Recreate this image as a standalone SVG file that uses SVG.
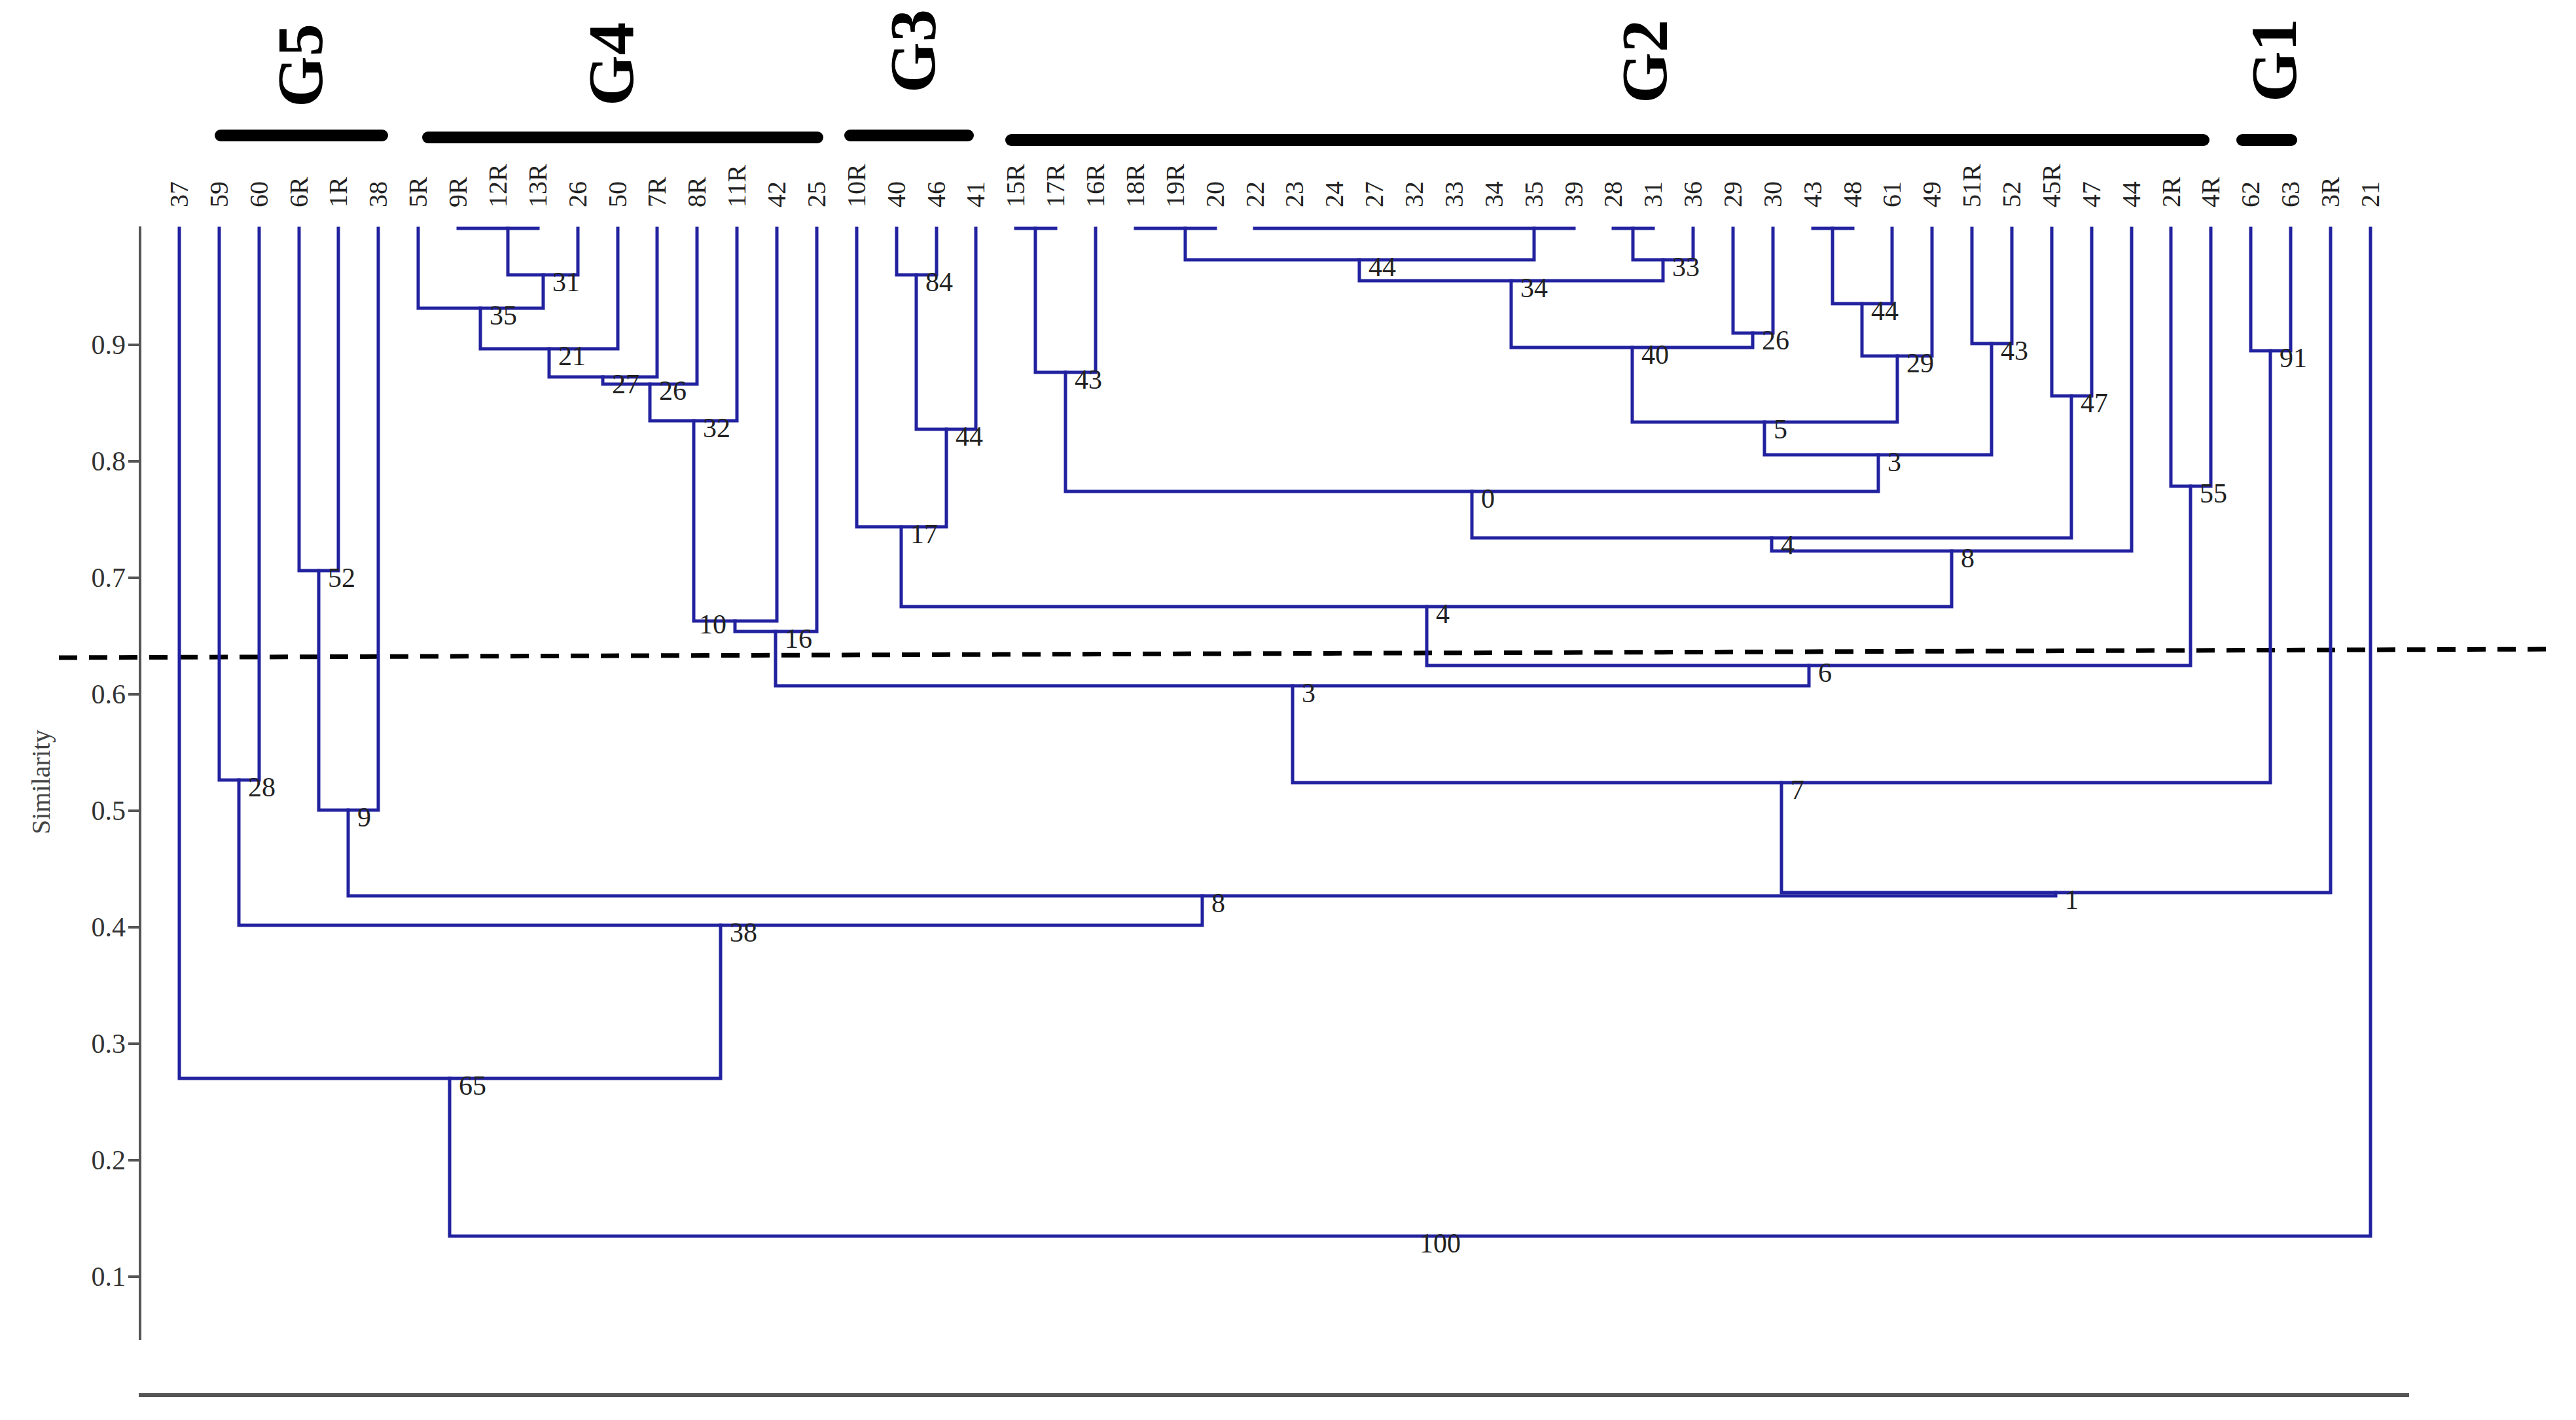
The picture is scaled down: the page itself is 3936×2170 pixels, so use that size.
<svg xmlns="http://www.w3.org/2000/svg" width="3936" height="2170" viewBox="0 0 3936 2170">
<style>
.b{fill:none;stroke:#2222a0;stroke-width:5;stroke-linecap:square;stroke-linejoin:miter}
.lf{font-family:"Liberation Serif","Times New Roman",serif;font-size:40px;fill:#222}
.nl{font-family:"Liberation Serif","Times New Roman",serif;font-size:42px;fill:#222}
.tk{font-family:"Liberation Serif","Times New Roman",serif;font-size:42px;fill:#333;text-anchor:end}
.gl{font-family:"Liberation Serif","Times New Roman",serif;font-size:100px;font-weight:bold;fill:#000;text-anchor:middle}
.bar{stroke:#000;stroke-width:18;stroke-linecap:round}
.ax{stroke:#555;fill:none}
</style>
<rect width="3936" height="2170" fill="#fff"/>
<g id="axis">
<path class="ax" stroke-width="4" d="M214 346V2048M196 527H214M196 705H214M196 883H214M196 1061H214M196 1239H214M196 1417H214M196 1595H214M196 1773H214M196 1951H214"/>
<text class="tk" x="192" y="541">0.9</text>
<text class="tk" x="192" y="719">0.8</text>
<text class="tk" x="192" y="897">0.7</text>
<text class="tk" x="192" y="1075">0.6</text>
<text class="tk" x="192" y="1253">0.5</text>
<text class="tk" x="192" y="1431">0.4</text>
<text class="tk" x="192" y="1609">0.3</text>
<text class="tk" x="192" y="1787">0.2</text>
<text class="tk" x="192" y="1965">0.1</text>
<text transform="translate(76,1195) rotate(-90)" text-anchor="middle" style="font-family:'Liberation Serif','Times New Roman',serif;font-size:40px;fill:#444">Similarity</text>
<path class="ax" stroke-width="6" d="M212 2132H3681"/>
</g>
<g id="groups">
<g id="G5"><line class="bar" x1="337" y1="207" x2="584" y2="207"/><text class="gl" transform="translate(492,100) rotate(-90)">G5</text></g>
<g id="G4"><line class="bar" x1="654" y1="210" x2="1249" y2="210"/><text class="gl" transform="translate(967,98) rotate(-90)">G4</text></g>
<g id="G3"><line class="bar" x1="1299" y1="207" x2="1479" y2="207"/><text class="gl" transform="translate(1428,78) rotate(-90)">G3</text></g>
<g id="G2"><line class="bar" x1="1545" y1="214" x2="3367" y2="214"/><text class="gl" transform="translate(2546,94) rotate(-90)">G2</text></g>
<g id="G1"><line class="bar" x1="3426" y1="214" x2="3501" y2="214"/><text class="gl" transform="translate(3508,92) rotate(-90)">G1</text></g>
</g>
<line id="cutoff" x1="90" y1="1005" x2="3907" y2="992" stroke="#000" stroke-width="7" stroke-dasharray="28 18"/>
<g id="connectors">
<path class="b" d="M700 349H822M1552 349H1613M1735 349H1857M1917 349H2405M2465 349H2526M2770 349H2831"/>
<path class="b" d="M776 349V420H883V349"/>
<path class="b" d="M639 349V471H830V420"/>
<path class="b" d="M734 471V533H944V349"/>
<path class="b" d="M839 533V576H1004V349"/>
<path class="b" d="M921 576V587H1065V349"/>
<path class="b" d="M993 587V643H1126V349"/>
<path class="b" d="M1060 643V949H1187V349"/>
<path class="b" d="M1123 949V965H1248V349"/>
<path class="b" d="M1370 349V420H1431V349"/>
<path class="b" d="M1400 420V656H1491V349"/>
<path class="b" d="M1309 349V805H1446V656"/>
<path class="b" d="M1582 349V569H1674V349"/>
<path class="b" d="M1811 349V397H2344V349"/>
<path class="b" d="M2495 349V397H2587V349"/>
<path class="b" d="M2077 397V429H2541V397"/>
<path class="b" d="M2648 349V509H2709V349"/>
<path class="b" d="M2309 429V531H2678V509"/>
<path class="b" d="M2800 349V464H2891V349"/>
<path class="b" d="M2845 464V544H2952V349"/>
<path class="b" d="M2494 531V645H2899V544"/>
<path class="b" d="M3013 349V525H3074V349"/>
<path class="b" d="M2696 645V695H3043V525"/>
<path class="b" d="M1628 569V751H2870V695"/>
<path class="b" d="M3135 349V605H3196V349"/>
<path class="b" d="M2249 751V822H3165V605"/>
<path class="b" d="M2707 822V842H3257V349"/>
<path class="b" d="M1377 805V927H2982V842"/>
<path class="b" d="M3317 349V743H3378V349"/>
<path class="b" d="M2180 927V1017H3347V743"/>
<path class="b" d="M1185 965V1048H2764V1017"/>
<path class="b" d="M3439 349V536H3500V349"/>
<path class="b" d="M1975 1048V1196H3469V536"/>
<path class="b" d="M2722 1196V1364H3561V349"/>
<path class="b" d="M457 349V872H517V349"/>
<path class="b" d="M487 872V1238H578V349"/>
<path class="b" d="M532 1238V1369H3141V1364"/>
<path class="b" d="M335 349V1192H396V349"/>
<path class="b" d="M365 1192V1414H1837V1369"/>
<path class="b" d="M274 349V1648H1101V1414"/>
<path class="b" d="M687 1648V1889H3622V349"/>
</g>
<g id="leaves">
<g id="leaf-37"><text class="lf" transform="translate(287,317) rotate(-90)">37</text></g>
<g id="leaf-59"><text class="lf" transform="translate(348,317) rotate(-90)">59</text></g>
<g id="leaf-60"><text class="lf" transform="translate(409,317) rotate(-90)">60</text></g>
<g id="leaf-6R"><text class="lf" transform="translate(470,317) rotate(-90)">6R</text></g>
<g id="leaf-1R"><text class="lf" transform="translate(530,317) rotate(-90)">1R</text></g>
<g id="leaf-38"><text class="lf" transform="translate(591,317) rotate(-90)">38</text></g>
<g id="leaf-5R"><text class="lf" transform="translate(652,317) rotate(-90)">5R</text></g>
<g id="leaf-9R"><text class="lf" transform="translate(713,317) rotate(-90)">9R</text></g>
<g id="leaf-12R"><text class="lf" transform="translate(774,317) rotate(-90)">12R</text></g>
<g id="leaf-13R"><text class="lf" transform="translate(835,317) rotate(-90)">13R</text></g>
<g id="leaf-26"><text class="lf" transform="translate(896,317) rotate(-90)">26</text></g>
<g id="leaf-50"><text class="lf" transform="translate(957,317) rotate(-90)">50</text></g>
<g id="leaf-7R"><text class="lf" transform="translate(1017,317) rotate(-90)">7R</text></g>
<g id="leaf-8R"><text class="lf" transform="translate(1078,317) rotate(-90)">8R</text></g>
<g id="leaf-11R"><text class="lf" transform="translate(1139,317) rotate(-90)">11R</text></g>
<g id="leaf-42"><text class="lf" transform="translate(1200,317) rotate(-90)">42</text></g>
<g id="leaf-25"><text class="lf" transform="translate(1261,317) rotate(-90)">25</text></g>
<g id="leaf-10R"><text class="lf" transform="translate(1322,317) rotate(-90)">10R</text></g>
<g id="leaf-40"><text class="lf" transform="translate(1383,317) rotate(-90)">40</text></g>
<g id="leaf-46"><text class="lf" transform="translate(1444,317) rotate(-90)">46</text></g>
<g id="leaf-41"><text class="lf" transform="translate(1504,317) rotate(-90)">41</text></g>
<g id="leaf-15R"><text class="lf" transform="translate(1565,317) rotate(-90)">15R</text></g>
<g id="leaf-17R"><text class="lf" transform="translate(1626,317) rotate(-90)">17R</text></g>
<g id="leaf-16R"><text class="lf" transform="translate(1687,317) rotate(-90)">16R</text></g>
<g id="leaf-18R"><text class="lf" transform="translate(1748,317) rotate(-90)">18R</text></g>
<g id="leaf-19R"><text class="lf" transform="translate(1809,317) rotate(-90)">19R</text></g>
<g id="leaf-20"><text class="lf" transform="translate(1870,317) rotate(-90)">20</text></g>
<g id="leaf-22"><text class="lf" transform="translate(1931,317) rotate(-90)">22</text></g>
<g id="leaf-23"><text class="lf" transform="translate(1991,317) rotate(-90)">23</text></g>
<g id="leaf-24"><text class="lf" transform="translate(2052,317) rotate(-90)">24</text></g>
<g id="leaf-27"><text class="lf" transform="translate(2113,317) rotate(-90)">27</text></g>
<g id="leaf-32"><text class="lf" transform="translate(2174,317) rotate(-90)">32</text></g>
<g id="leaf-33"><text class="lf" transform="translate(2235,317) rotate(-90)">33</text></g>
<g id="leaf-34"><text class="lf" transform="translate(2296,317) rotate(-90)">34</text></g>
<g id="leaf-35"><text class="lf" transform="translate(2357,317) rotate(-90)">35</text></g>
<g id="leaf-39"><text class="lf" transform="translate(2418,317) rotate(-90)">39</text></g>
<g id="leaf-28"><text class="lf" transform="translate(2478,317) rotate(-90)">28</text></g>
<g id="leaf-31"><text class="lf" transform="translate(2539,317) rotate(-90)">31</text></g>
<g id="leaf-36"><text class="lf" transform="translate(2600,317) rotate(-90)">36</text></g>
<g id="leaf-29"><text class="lf" transform="translate(2661,317) rotate(-90)">29</text></g>
<g id="leaf-30"><text class="lf" transform="translate(2722,317) rotate(-90)">30</text></g>
<g id="leaf-43"><text class="lf" transform="translate(2783,317) rotate(-90)">43</text></g>
<g id="leaf-48"><text class="lf" transform="translate(2844,317) rotate(-90)">48</text></g>
<g id="leaf-61"><text class="lf" transform="translate(2904,317) rotate(-90)">61</text></g>
<g id="leaf-49"><text class="lf" transform="translate(2965,317) rotate(-90)">49</text></g>
<g id="leaf-51R"><text class="lf" transform="translate(3026,317) rotate(-90)">51R</text></g>
<g id="leaf-52"><text class="lf" transform="translate(3087,317) rotate(-90)">52</text></g>
<g id="leaf-45R"><text class="lf" transform="translate(3148,317) rotate(-90)">45R</text></g>
<g id="leaf-47"><text class="lf" transform="translate(3209,317) rotate(-90)">47</text></g>
<g id="leaf-44"><text class="lf" transform="translate(3270,317) rotate(-90)">44</text></g>
<g id="leaf-2R"><text class="lf" transform="translate(3331,317) rotate(-90)">2R</text></g>
<g id="leaf-4R"><text class="lf" transform="translate(3391,317) rotate(-90)">4R</text></g>
<g id="leaf-62"><text class="lf" transform="translate(3452,317) rotate(-90)">62</text></g>
<g id="leaf-63"><text class="lf" transform="translate(3513,317) rotate(-90)">63</text></g>
<g id="leaf-3R"><text class="lf" transform="translate(3574,317) rotate(-90)">3R</text></g>
<g id="leaf-21"><text class="lf" transform="translate(3635,317) rotate(-90)">21</text></g>
</g>
<g id="nodes">
<g id="n31"><text class="nl" x="844" y="445">31</text></g>
<g id="n35"><text class="nl" x="748" y="496">35</text></g>
<g id="n21"><text class="nl" x="853" y="558">21</text></g>
<g id="n27"><text class="nl" x="935" y="601">27</text></g>
<g id="n26a"><text class="nl" x="1007" y="611">26</text></g>
<g id="n32"><text class="nl" x="1074" y="668">32</text></g>
<g id="n10"><text class="nl" x="1068" y="968">10</text></g>
<g id="n16"><text class="nl" x="1199" y="990">16</text></g>
<g id="n84"><text class="nl" x="1414" y="445">84</text></g>
<g id="n44a"><text class="nl" x="1460" y="681">44</text></g>
<g id="n17"><text class="nl" x="1391" y="830">17</text></g>
<g id="n43a"><text class="nl" x="1642" y="594">43</text></g>
<g id="n44b"><text class="nl" x="2091" y="422">44</text></g>
<g id="n33"><text class="nl" x="2555" y="422">33</text></g>
<g id="n34"><text class="nl" x="2323" y="454">34</text></g>
<g id="n26b"><text class="nl" x="2692" y="534">26</text></g>
<g id="n40"><text class="nl" x="2508" y="556">40</text></g>
<g id="n44c"><text class="nl" x="2859" y="489">44</text></g>
<g id="n29"><text class="nl" x="2913" y="569">29</text></g>
<g id="n5"><text class="nl" x="2710" y="670">5</text></g>
<g id="n43b"><text class="nl" x="3057" y="550">43</text></g>
<g id="n3a"><text class="nl" x="2884" y="720">3</text></g>
<g id="n0"><text class="nl" x="2263" y="776">0</text></g>
<g id="n47"><text class="nl" x="3179" y="630">47</text></g>
<g id="n4a"><text class="nl" x="2721" y="847">4</text></g>
<g id="n8a"><text class="nl" x="2996" y="867">8</text></g>
<g id="n4b"><text class="nl" x="2194" y="952">4</text></g>
<g id="n55"><text class="nl" x="3361" y="768">55</text></g>
<g id="n6"><text class="nl" x="2778" y="1042">6</text></g>
<g id="n3b"><text class="nl" x="1989" y="1073">3</text></g>
<g id="n91"><text class="nl" x="3483" y="561">91</text></g>
<g id="n7"><text class="nl" x="2736" y="1221">7</text></g>
<g id="n1"><text class="nl" x="3155" y="1389">1</text></g>
<g id="n52"><text class="nl" x="501" y="897">52</text></g>
<g id="n9"><text class="nl" x="546" y="1263">9</text></g>
<g id="n8b"><text class="nl" x="1851" y="1394">8</text></g>
<g id="n28"><text class="nl" x="379" y="1217">28</text></g>
<g id="n38"><text class="nl" x="1115" y="1439">38</text></g>
<g id="n65"><text class="nl" x="701" y="1673">65</text></g>
<g id="n100"><text class="nl" x="2169" y="1914">100</text></g>
</g>
</svg>
